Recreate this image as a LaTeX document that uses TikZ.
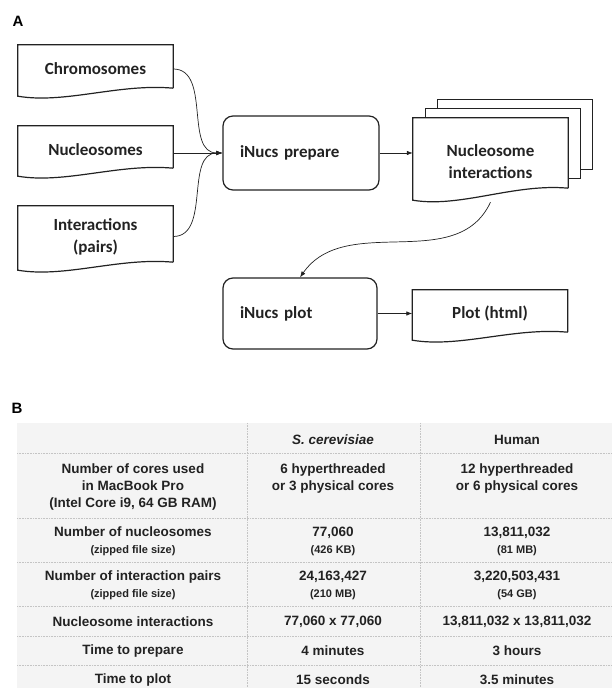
\documentclass[tikz,border=0pt]{standalone}
\usepackage{fontspec}
\newfontfamily\flowfont{Carlito}
\newfontfamily\tabfont{Liberation Sans}
\usetikzlibrary{arrows.meta}
\usetikzlibrary{calc}
\definecolor{ink}{HTML}{222222}
\definecolor{tablebg}{HTML}{F4F4F4}
\definecolor{gridline}{HTML}{C4C4C4}
\newcommand{\smalltab}{\fontsize{11bp}{13bp}\selectfont}

\tikzset{
  boxline/.style={draw=ink, line width=1.2bp},
  doc/.style 2 args={inner sep=0pt, minimum width=155bp, align=center, text=ink,
    font=\flowfont\bfseries\fontsize{17bp}{22bp}\selectfont,
    append after command={\pgfextra{\draw[boxline]
      ($(\tikzlastnode.south east)+(0,#2)$) -- (\tikzlastnode.north east)
      -- (\tikzlastnode.north west) -- ($(\tikzlastnode.south west)+(0,#1)$)
      .. controls +(47,-8) and +(-54,5) .. ($(\tikzlastnode.south east)+(0,#2)$);}}},
  proc/.style={boxline, rounded corners=10bp, align=left, inner xsep=17bp, text=ink,
    font=\flowfont\bfseries\fontsize{17bp}{22bp}\selectfont},
  conn/.style={draw=ink, line width=0.7bp, -{Latex[length=6bp,width=4.5bp]}},
  lab/.style={font=\tabfont\bfseries\fontsize{15bp}{18bp}\selectfont, text=black},
  cell/.style={inner sep=0pt, align=center, text=ink,
    font=\tabfont\bfseries\fontsize{13.5bp}{17bp}\selectfont},
  grid/.style={draw=gridline, line width=0.6bp, densely dotted}
}

\begin{document}
\begin{tikzpicture}[x=1bp,y=1bp]
\useasboundingbox (0,0) rectangle (612,688);

% Part A
\node[lab] (labA) at (18,667) {A};

  % inputs
  \node[doc={-3}{5}, minimum height=48bp] (chrom) at (95.5,619) {Chromosomes};
  \node[doc={-3}{5}, minimum height=47bp] (nucl) at (95.5,538.5) {Nucleosomes};
  \node[doc={-3}{5}, minimum height=61bp] (inter) at (95.5,451.5) {Interactions\\(pairs)};

  % prepare step
  \node[proc, text width=122bp, minimum height=74bp] (prep) at (301,535) {iNucs prepare};

  % stacked output
  \node[doc={6}{18}, minimum height=88bp] (ni) at (490.5,526) {Nucleosome\\interactions};
  \draw[boxline] ($(ni.north west)+(13,0)$) -- ++(0,9) -- ++(155,0) -- ++(0,-70) -- ++(-12,0);
  \draw[boxline] ($(ni.north west)+(25,9)$) -- ++(0,9) -- ++(155,0) -- ++(0,-70) -- ++(-12,0);

  % plot step
  \node[proc, text width=120bp, minimum height=71bp] (plotn) at (300,374.5) {iNucs plot};
  \node[doc={-3}{5}, minimum height=47bp] (html) at (490,374.5) {Plot (html)};

  % connectors
  \draw[conn] (chrom.east) to[out=0,in=180] (prep.west);
  \draw[conn] (nucl.east |- prep.west) -- (prep.west);
  \draw[conn] (inter.east) to[out=0,in=180] (prep.west);
  \draw[conn] (prep.east) -- (prep.east -| ni.west);
  \draw[conn] ([yshift=4bp]ni.south) to[out=-115,in=55] (plotn.north);
  \draw[conn] (plotn.east) -- (html.west);

% Part B
\node[lab] (labB) at (17,280) {B};

  % table background and dotted rules
  \fill[tablebg] (17,265) rectangle (612,0);
  \draw[grid] (17,235) -- (612,235);
  \draw[grid] (17,170) -- (612,170);
  \draw[grid] (17,126) -- (612,126);
  \draw[grid] (17,82) -- (612,82);
  \draw[grid] (17,52) -- (612,52);
  \draw[grid] (17,23) -- (612,23);
  \draw[grid] (247,265) -- (247,0);
  \draw[grid] (420,265) -- (420,0);

  % header
  \node[cell] (headSc) at (333,248) {\itshape S. cerevisiae};
  \node[cell] (headHs) at (517,248) {Human};

  % cores
  \node[cell] (cores) at (133,201) {Number of cores used\\in MacBook Pro\\(Intel Core i9, 64 GB RAM)};
  \node[cell] (coresSc) at (333,209.5) {6 hyperthreaded\\or 3 physical cores};
  \node[cell] (coresHs) at (517,209.5) {12 hyperthreaded\\or 6 physical cores};

  % nucleosomes
  \node[cell] (nucs) at (133,146.5) {Number of nucleosomes\\{\smalltab (zipped file size)}};
  \node[cell] (nucsSc) at (333,146.5) {77,060\\{\smalltab (426 KB)}};
  \node[cell] (nucsHs) at (517,146.5) {13,811,032\\{\smalltab (81 MB)}};

  % pairs
  \node[cell] (pairs) at (133,103) {Number of interaction pairs\\{\smalltab (zipped file size)}};
  \node[cell] (pairsSc) at (333,103) {24,163,427\\{\smalltab (210 MB)}};
  \node[cell] (pairsHs) at (517,103) {3,220,503,431\\{\smalltab (54 GB)}};

  % interactions
  \node[cell] (inters) at (133,66) {Nucleosome interactions};
  \node[cell] (intersSc) at (333,66) {77,060 x 77,060};
  \node[cell] (intersHs) at (517,66) {13,811,032 x 13,811,032};

  % timings
  \node[cell] (tprep) at (133,37) {Time to prepare};
  \node[cell] (tprepSc) at (333,37) {4 minutes};
  \node[cell] (tprepHs) at (517,37) {3 hours};
  \node[cell] (tplot) at (133,8) {Time to plot};
  \node[cell] (tplotSc) at (333,8) {15 seconds};
  \node[cell] (tplotHs) at (517,8) {3.5 minutes};

\end{tikzpicture}
\end{document}
